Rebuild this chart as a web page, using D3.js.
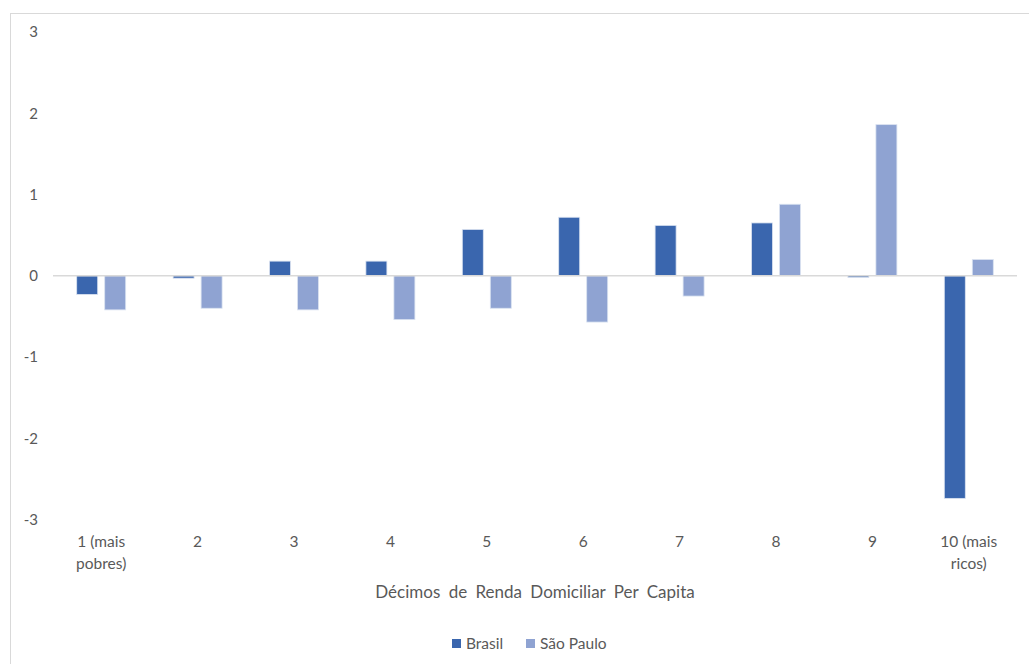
<!DOCTYPE html>
<html>
<head>
<meta charset="utf-8">
<script src="https://cdn.jsdelivr.net/npm/d3@7"></script>
<style>
  body { margin: 0; background: #fff; }
  svg text { font-family: Lato, "Open Sans", sans-serif; fill: #595959; }
</style>
</head>
<body>
<div id="chart"></div>
<script>
// data
const categories = ["1 (mais pobres)", "2", "3", "4", "5", "6", "7", "8", "9", "10 (mais ricos)"];
const categoryLines = [["1 (mais", "pobres)"], ["2"], ["3"], ["4"], ["5"], ["6"], ["7"], ["8"], ["9"], ["10 (mais", "ricos)"]];
const seriesNames = ["Brasil", "São Paulo"];
const brasil = [-0.23, -0.03, 0.18, 0.18, 0.57, 0.72, 0.62, 0.65, -0.02, -2.74];
const saoPaulo = [-0.42, -0.40, -0.42, -0.54, -0.40, -0.57, -0.25, 0.88, 1.86, 0.20];
const yTicks = [-3, -2, -1, 0, 1, 2, 3];
const colors = ["#3a66ae", "#8fa3d2"];

const width = 1029, height = 664;
const svg = d3.select("#chart").append("svg")
  .attr("width", width)
  .attr("height", height);

// chart area border
svg.append("rect")
  .attr("x", 10.5).attr("y", 13.5)
  .attr("width", 1030).attr("height", 670)
  .attr("fill", "none")
  .attr("stroke", "#d9d9d9");

const x0 = d3.scaleBand()
  .domain(categories)
  .range([53, 1017]);

const groupWidth = 49;
const x1 = d3.scaleBand()
  .domain(seriesNames)
  .range([0, groupWidth])
  .paddingInner(0.25);

const y = d3.scaleLinear()
  .domain([-3, 3])
  .range([519.5, 32]);

// y tick labels
svg.append("g")
  .selectAll("text")
  .data(yTicks)
  .join("text")
  .attr("x", 38)
  .attr("y", d => y(d))
  .attr("dy", "0.35em")
  .attr("text-anchor", "end")
  .style("font-size", "15px")
  .text(d => d);

// bars
const rows = categories.map((c, i) => ({ cat: c, values: [brasil[i], saoPaulo[i]] }));

const groups = svg.append("g")
  .selectAll("g")
  .data(rows)
  .join("g")
  .attr("transform", d => `translate(${x0(d.cat) + (x0.bandwidth() - groupWidth) / 2},0)`);

groups.selectAll("rect")
  .data(d => d.values.map((v, j) => ({ name: seriesNames[j], value: v, j })))
  .join("rect")
  .attr("x", d => x1(d.name))
  .attr("y", d => y(Math.max(0, d.value)))
  .attr("width", x1.bandwidth())
  .attr("height", d => Math.abs(y(d.value) - y(0)))
  .attr("fill", d => colors[d.j])
  .attr("stroke", "#dbe3f1")
  .attr("stroke-width", 0.8);

// zero line
svg.append("line")
  .attr("x1", 53).attr("x2", 1017)
  .attr("y1", y(0)).attr("y2", y(0))
  .attr("stroke", "#d9d9d9")
  .attr("stroke-width", 1.5);

// category labels
const catLabels = svg.append("g")
  .selectAll("text")
  .data(categories)
  .join("text")
  .attr("x", d => x0(d) + x0.bandwidth() / 2)
  .attr("y", 547)
  .attr("text-anchor", "middle")
  .style("font-size", "15.5px");

catLabels.selectAll("tspan")
  .data((d, i) => categoryLines[i])
  .join("tspan")
  .attr("x", function() { return d3.select(this.parentNode).attr("x"); })
  .attr("dy", (d, i) => i === 0 ? 0 : 22)
  .text(d => d);

// axis title
svg.append("text")
  .attr("x", 535)
  .attr("y", 598)
  .attr("text-anchor", "middle")
  .style("font-size", "17px")
  .style("word-spacing", "4px")
  .text("Décimos de Renda Domiciliar Per Capita");

// legend
const legendItems = [{ name: "Brasil", x: 452 }, { name: "São Paulo", x: 526 }];
const legend = svg.append("g")
  .selectAll("g")
  .data(legendItems)
  .join("g")
  .attr("transform", d => `translate(${d.x},0)`);

legend.append("rect")
  .attr("x", 0).attr("y", 639)
  .attr("width", 9).attr("height", 9)
  .attr("fill", (d, i) => colors[i]);

legend.append("text")
  .attr("x", 14)
  .attr("y", 649)
  .style("font-size", "15.5px")
  .text(d => d.name);
</script>
</body>
</html>
